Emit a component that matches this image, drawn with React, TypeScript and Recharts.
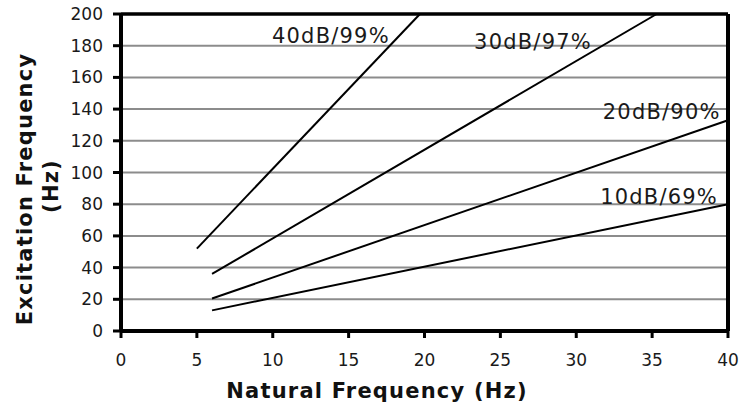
import { LineChart, Line, XAxis, YAxis, CartesianGrid, ReferenceLine, ReferenceDot } from "recharts";

const xTicks = [0, 5, 10, 15, 20, 25, 30, 35, 40];
const yTicks = [0, 20, 40, 60, 80, 100, 120, 140, 160, 180, 200];

// natural frequency (x) vs excitation frequency (y), one array per isolation level
const line40dB = [{ x: 5, y: 52 }, { x: 19.7, y: 200 }];
const line30dB = [{ x: 6, y: 36 }, { x: 35.3, y: 200 }];
const line20dB = [{ x: 6, y: 20.5 }, { x: 40, y: 133 }];
const line10dB = [{ x: 6, y: 13 }, { x: 40, y: 80 }];

const curveNames = ["40dB/99%", "30dB/97%", "20dB/90%", "10dB/69%"];
const nameX = [9.95, 23.27, 31.75, 31.58];
const nameY = [182, 178.2, 133.8, 80];

const font = "'DejaVu Sans', Verdana, sans-serif";

export default function App() {
  const series = [line40dB, line30dB, line20dB, line10dB];

  return (
    <div style={{ position: "absolute", left: 0, top: 0, width: 754, height: 406, background: "#fff" }}>
      <LineChart width={754} height={406} margin={{ top: 14, right: 26, bottom: 45, left: 61 }}>
        <CartesianGrid horizontal vertical={false} stroke="#8c8c8c" strokeWidth={2} />
        <XAxis
          type="number"
          dataKey="x"
          domain={[0, 40]}
          ticks={xTicks}
          height={30}
          axisLine={{ stroke: "#000", strokeWidth: 4 }}
          tickLine={{ stroke: "#000", strokeWidth: 3 }}
          tickSize={7}
          tickMargin={16}
          tick={{ fill: "#1a1a1a", fontSize: 17, fontFamily: font }}
        />
        <YAxis
          type="number"
          dataKey="y"
          domain={[0, 200]}
          ticks={yTicks}
          width={60}
          axisLine={{ stroke: "#000", strokeWidth: 4 }}
          tickLine={{ stroke: "#000", strokeWidth: 3 }}
          tickSize={8}
          tickMargin={10}
          tick={{ fill: "#1a1a1a", fontSize: 17, fontFamily: font }}
        />
        <ReferenceLine y={200} stroke="#000" strokeWidth={3.5} />
        <ReferenceLine x={40} stroke="#000" strokeWidth={4} />
        {series.map((d, i) => (
          <Line
            key={curveNames[i]}
            data={d}
            dataKey="y"
            type="linear"
            stroke="#000"
            strokeWidth={2}
            dot={false}
            isAnimationActive={false}
          />
        ))}
        {curveNames.map((name, i) => (
          <ReferenceDot
            key={name}
            x={nameX[i]}
            y={nameY[i]}
            r={0}
            fill="none"
            stroke="none"
            label={(p: any) => (
              <text
                x={p.viewBox.x}
                y={p.viewBox.y}
                fill="#1a1a1a"
                fontSize={21}
                fontFamily={font}
                letterSpacing={1.2}
              >
                {name}
              </text>
            )}
          />
        ))}
        <text x={377} y={398} textAnchor="middle" fontSize={21} fontWeight="bold" fontFamily={font} letterSpacing={1.2} fill="#111">
          Natural Frequency (Hz)
        </text>
        <text transform="translate(32,189) rotate(-90)" textAnchor="middle" fontSize={21} fontWeight="bold" fontFamily={font} letterSpacing={1.2} fill="#111">
          Excitation Frequency
        </text>
        <text transform="translate(58,186) rotate(-90)" textAnchor="middle" fontSize={21} fontWeight="bold" fontFamily={font} letterSpacing={1.2} fill="#111">
          (Hz)
        </text>
      </LineChart>
    </div>
  );
}
